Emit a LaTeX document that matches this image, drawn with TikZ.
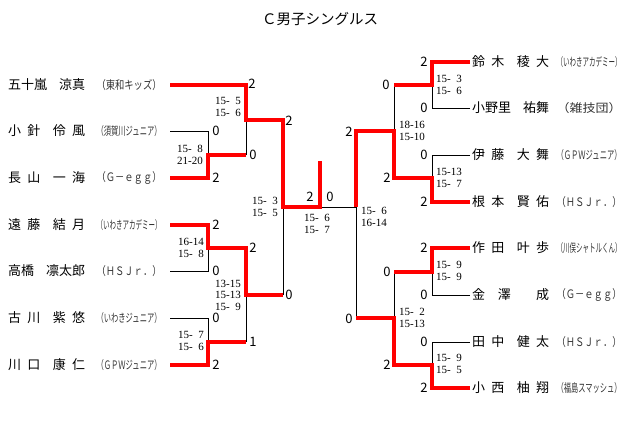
\documentclass[tikz,border=0pt]{standalone}
\usepackage{fontspec}
\usepackage{graphicx}
\usetikzlibrary{positioning}
\newfontfamily\jpfont{Noto Sans CJK JP}
\newfontfamily\gamefont{Liberation Serif}
\newcommand{\pbox}[1]{\makebox[77pt][s]{#1}}
\newcommand{\abox}[1]{\resizebox{65pt}{10pt}{#1}}

\begin{document}
\begin{tikzpicture}[x=1pt, y=-1pt,
    win/.style={red, line width=3.5pt},
    lose/.style={black, line width=1pt},
    pname/.style={anchor=west, inner sep=0pt, font=\jpfont\fontsize{13}{14}\selectfont},
    aff/.style={inner sep=0pt, text=black!80, font=\jpfont\fontsize{10}{12}\selectfont},
    score/.style={inner sep=0pt, font=\jpfont\fontsize{13}{13}\selectfont},
    games/.style={inner sep=0pt, align=left, font=\gamefont\fontsize{11}{11.5}\selectfont}]
  \useasboundingbox (0,0) rectangle (640,429);

  \node (title) at (320,19) {\jpfont\fontsize{14.5}{16}\selectfont Ｃ男子シングルス};

  % left half
  \node[pname] (p1) at (8,85)  {\pbox{五十嵐\hfill 涼真}};
  \node[aff, right=11pt of p1] (a1) {\abox{（東和キッズ）}};
  \node[pname] (p2) at (8,131) {\pbox{小\hfill 針\hfill\hfill 伶\hfill 風}};
  \node[aff, right=11pt of p2] (a2) {\abox{（須賀川ジュニア）}};
  \node[pname] (p3) at (8,178) {\pbox{長\hfill 山\hfill\hfill 一\hfill 海}};
  \node[aff, right=11pt of p3] (a3) {\abox{（Ｇ－ｅｇｇ）}};
  \node[pname] (p4) at (8,225) {\pbox{遠\hfill 藤\hfill\hfill 結\hfill 月}};
  \node[aff, right=11pt of p4] (a4) {\abox{（いわきアカデミー）}};
  \node[pname] (p5) at (8,271) {\pbox{高橋\hfill 凛太郎}};
  \node[aff, right=11pt of p5] (a5) {\abox{（ＨＳＪｒ．）}};
  \node[pname] (p6) at (8,318) {\pbox{古\hfill 川\hfill\hfill 紫\hfill 悠}};
  \node[aff, right=11pt of p6] (a6) {\abox{（いわきジュニア）}};
  \node[pname] (p7) at (8,365) {\pbox{川\hfill 口\hfill\hfill 康\hfill 仁}};
  \node[aff, right=11pt of p7] (a7) {\abox{（ＧＰＷジュニア）}};

  % right half
  \node[pname] (q1) at (472,62)  {\pbox{鈴\hfill 木\hfill\hfill 稜\hfill 大}};
  \node[aff, right=7pt of q1] (b1) {\abox{（いわきアカデミー）}};
  \node[pname] (q2) at (472,108) {\pbox{小野里\hfill 祐舞}};
  \node[aff, right=7pt of q2] (b2) {\abox{（雑技団）}};
  \node[pname] (q3) at (472,155) {\pbox{伊\hfill 藤\hfill\hfill 大\hfill 舞}};
  \node[aff, right=7pt of q3] (b3) {\abox{（ＧＰＷジュニア）}};
  \node[pname] (q4) at (472,202) {\pbox{根\hfill 本\hfill\hfill 賢\hfill 佑}};
  \node[aff, right=7pt of q4] (b4) {\abox{（ＨＳＪｒ．）}};
  \node[pname] (q5) at (472,248) {\pbox{作\hfill 田\hfill\hfill 叶\hfill 歩}};
  \node[aff, right=7pt of q5] (b5) {\abox{（川俣シャトルくん）}};
  \node[pname] (q6) at (472,295) {\pbox{金\hfill 澤\hfill\hfill 成}};
  \node[aff, right=7pt of q6] (b6) {\abox{（Ｇ－ｅｇｇ）}};
  \node[pname] (q7) at (472,342) {\pbox{田\hfill 中\hfill\hfill 健\hfill 太}};
  \node[aff, right=7pt of q7] (b7) {\abox{（ＨＳＪｒ．）}};
  \node[pname] (q8) at (472,388) {\pbox{小\hfill 西\hfill\hfill 柚\hfill 翔}};
  \node[aff, right=7pt of q8] (b8) {\abox{（福島スマッシュ）}};

  % line starts and match points
  \coordinate (L1) at (170,85);  \coordinate (L2) at (170,131);
  \coordinate (L3) at (170,178); \coordinate (L4) at (170,225);
  \coordinate (L5) at (170,271); \coordinate (L6) at (170,318);
  \coordinate (L7) at (170,365);
  \coordinate (mA) at (208,155); \coordinate (mB) at (246,120);
  \coordinate (mC) at (208,248); \coordinate (mD) at (208,342);
  \coordinate (mE) at (246,295); \coordinate (mF) at (283,207);
  \coordinate (mG) at (320,207); \coordinate (top) at (320,161);
  \coordinate (R1) at (470,62);  \coordinate (R2) at (470,108);
  \coordinate (R3) at (470,155); \coordinate (R4) at (470,202);
  \coordinate (R5) at (470,248); \coordinate (R6) at (470,295);
  \coordinate (R7) at (470,342); \coordinate (R8) at (470,388);
  \coordinate (nA) at (432,85);  \coordinate (nB) at (432,178);
  \coordinate (nC) at (394,131); \coordinate (nD) at (432,272);
  \coordinate (nE) at (432,365); \coordinate (nF) at (394,318);
  \coordinate (nG) at (356,207);

  % black lines
  \draw[lose] (L2) -| (mA);
  \draw[lose] (mA -| mB) -- (mB);
  \draw[lose] (L5) -| (mC);
  \draw[lose] (L6) -| (mD);
  \draw[lose] (mD -| mE) -- (mE);
  \draw[lose] (mE -| mF) -- (mF);
  \draw[lose] (R2) -| (nA);
  \draw[lose] (nA -| nC) -- (nC);
  \draw[lose] (R3) -| (nB);
  \draw[lose] (R6) -| (nD);
  \draw[lose] (nD -| nF) -- (nF);
  \draw[lose] (R7) -| (nE);
  \draw[lose] (nF -| nG) -- (nG);
  \draw[lose] (nG) -- (mG);

  % red lines
  \draw[win] (L1) -| (mB) -- (mB -| mF) |- (mG) -- (top);
  \draw[win] (L3) -| (mA) -- (mA -| mB);
  \draw[win] (L4) -| (mC) -- (mC -| mE) -- (mE) -- (mE -| mF);
  \draw[win] (L7) -| (mD) -- (mD -| mE);
  \draw[win] (R1) -| (nA) -- (nA -| nC);
  \draw[win] (R4) -| (nB) -- (nB -| nC) -- (nC) -- (nC -| nG) -- (nG);
  \draw[win] (R5) -| (nD) -- (nD -| nF);
  \draw[win] (R8) -| (nE) -- (nE -| nF) -- (nF) -- (nF -| nG);

  % set scores
  \node[score] (s1) at (252,84) {2};
  \node[score] (s2) at (216,131) {0};
  \node[score] (s3) at (216,178) {2};
  \node[score] (s4) at (253,155) {0};
  \node[score] (s5) at (289,121) {2};
  \node[score] (s6) at (216,225) {2};
  \node[score] (s7) at (216,271) {0};
  \node[score] (s8) at (253,248) {2};
  \node[score] (s9) at (216,318) {0};
  \node[score] (s10) at (216,365) {2};
  \node[score] (s11) at (253,342) {1};
  \node[score] (s12) at (289,295) {0};
  \node[score] (s13) at (310,197) {2};
  \node[score] (s14) at (330,197) {0};
  \node[score] (t1) at (424,62) {2};
  \node[score] (t2) at (424,108) {0};
  \node[score] (t3) at (386,85) {0};
  \node[score] (t4) at (424,155) {0};
  \node[score] (t5) at (424,202) {2};
  \node[score] (t6) at (387,178) {2};
  \node[score] (t7) at (349,132) {2};
  \node[score] (t8) at (424,248) {2};
  \node[score] (t9) at (424,295) {0};
  \node[score] (t10) at (387,272) {0};
  \node[score] (t11) at (424,342) {0};
  \node[score] (t12) at (424,388) {2};
  \node[score] (t13) at (387,365) {2};
  \node[score] (t14) at (349,319) {0};

  % game scores
  \node[games, anchor=east] (g1) at (241,107) {15-\enspace5\\15-\enspace6};
  \node[games, anchor=east] (g2) at (203,155) {15-\enspace8\\21-20};
  \node[games, anchor=east] (g3) at (204,248) {16-14\\15-\enspace8};
  \node[games, anchor=east] (g4) at (204,341) {15-\enspace7\\15-\enspace6};
  \node[games, anchor=east] (g5) at (241,295) {13-15\\15-13\\15-\enspace9};
  \node[games, anchor=east] (g6) at (278,207) {15-\enspace3\\15-\enspace5};
  \node[games] (g7) at (317,224) {15-\enspace6\\15-\enspace7};
  \node[games, anchor=west] (h1) at (436,85) {15-\enspace3\\15-\enspace6};
  \node[games, anchor=west] (h2) at (436,178) {15-13\\15-\enspace7};
  \node[games, anchor=west] (h3) at (399,131) {18-16\\15-10};
  \node[games, anchor=west] (h4) at (436,271) {15-\enspace9\\15-\enspace9};
  \node[games, anchor=west] (h5) at (436,364) {15-\enspace9\\15-\enspace5};
  \node[games, anchor=west] (h6) at (399,318) {15-\enspace2\\15-13};
  \node[games, anchor=west] (h7) at (361,217) {15-\enspace6\\16-14};
\end{tikzpicture}
\end{document}
